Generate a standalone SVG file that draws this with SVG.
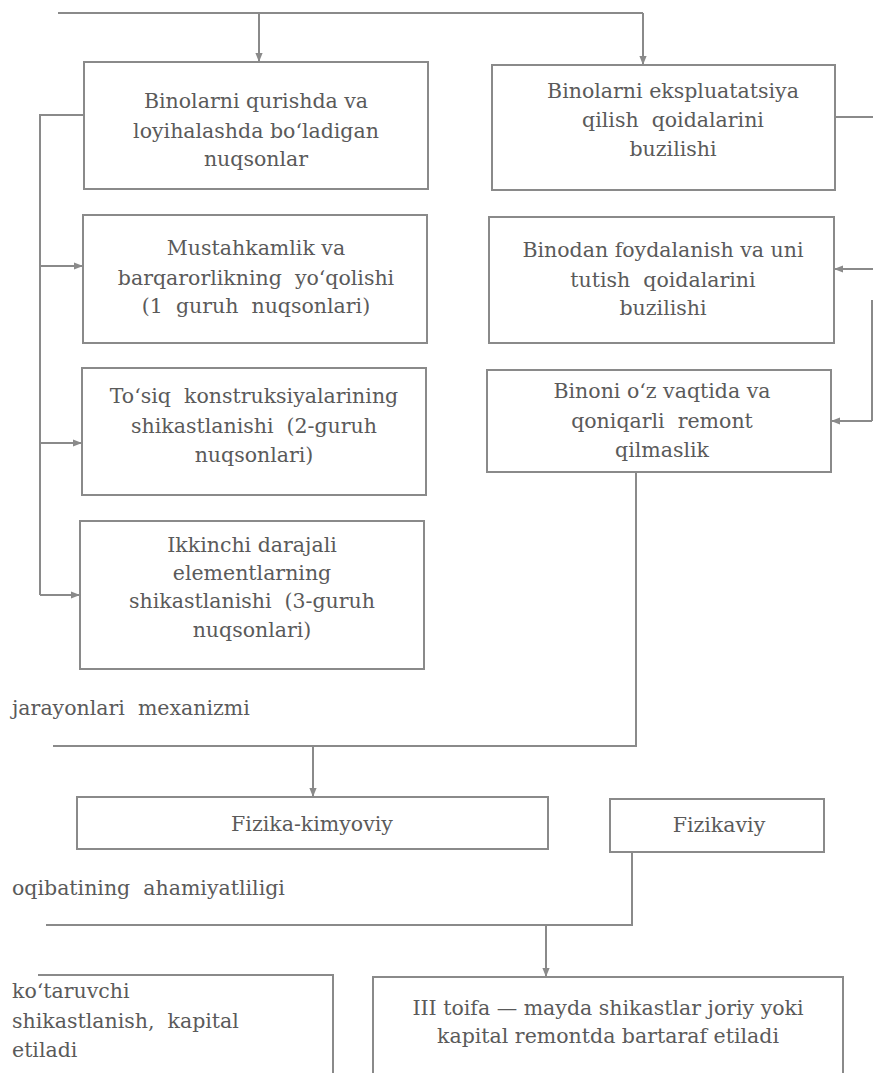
<svg xmlns="http://www.w3.org/2000/svg" width="873" height="1073" viewBox="0 0 873 1073">
<defs>
<style>
.box{fill:none;stroke:#8a8a8a;stroke-width:2}
.ln{fill:none;stroke:#8a8a8a;stroke-width:2}
.t{font-family:"DejaVu Serif","Liberation Serif",serif;font-size:20.5px;fill:#5a5a5a;white-space:pre}
.c{text-anchor:middle}
</style>
<marker id="ah" viewBox="0 0 10 10" refX="10" refY="5" markerWidth="9" markerHeight="9" markerUnits="userSpaceOnUse" orient="auto">
<path d="M0,1 L10,5 L0,9 z" fill="#8a8a8a"/>
</marker>
</defs>
<rect width="873" height="1073" fill="#ffffff"/>

<g id="connectors">
<path class="ln" d="M58,13 H643"/>
<path class="ln" d="M259,13 V62" marker-end="url(#ah)"/>
<path class="ln" d="M643,13 V65" marker-end="url(#ah)"/>
<path class="ln" d="M84,115 H40 V595"/>
<path class="ln" d="M40,266 H83" marker-end="url(#ah)"/>
<path class="ln" d="M40,443 H82" marker-end="url(#ah)"/>
<path class="ln" d="M40,595 H80" marker-end="url(#ah)"/>
<path class="ln" d="M835,117 H873"/>
<path class="ln" d="M873,269 H834" marker-end="url(#ah)"/>
<path class="ln" d="M872,300 V421"/>
<path class="ln" d="M872,421 H831" marker-end="url(#ah)"/>
<path class="ln" d="M636,472 V746 H53"/>
<path class="ln" d="M313,746 V797" marker-end="url(#ah)"/>
<path class="ln" d="M632,852 V925 H46"/>
<path class="ln" d="M546,925 V977" marker-end="url(#ah)"/>
</g>

<g id="n1">
<rect class="box" x="84" y="62" width="344" height="127"/>
<text class="t c" x="256" y="108">Binolarni qurishda va</text>
<text class="t c" x="256" y="138">loyihalashda bo‘ladigan</text>
<text class="t c" x="256" y="166">nuqsonlar</text>
</g>

<g id="n2">
<rect class="box" x="492" y="65" width="343" height="125"/>
<text class="t c" x="673" y="98">Binolarni ekspluatatsiya</text>
<text class="t c" x="673" y="127">qilish  qoidalarini</text>
<text class="t c" x="673" y="156">buzilishi</text>
</g>

<g id="n3">
<rect class="box" x="83" y="215" width="344" height="128"/>
<text class="t c" x="256" y="255">Mustahkamlik va</text>
<text class="t c" x="256" y="285">barqarorlikning  yo‘qolishi</text>
<text class="t c" x="256" y="313">(1  guruh  nuqsonlari)</text>
</g>

<g id="n4">
<rect class="box" x="82" y="368" width="344" height="127"/>
<text class="t c" x="254" y="403">To‘siq  konstruksiyalarining</text>
<text class="t c" x="254" y="433">shikastlanishi  (2-guruh</text>
<text class="t c" x="254" y="462">nuqsonlari)</text>
</g>

<g id="n5">
<rect class="box" x="80" y="521" width="344" height="148"/>
<text class="t c" x="252" y="552">Ikkinchi darajali</text>
<text class="t c" x="252" y="580">elementlarning</text>
<text class="t c" x="252" y="608">shikastlanishi  (3-guruh</text>
<text class="t c" x="252" y="637">nuqsonlari)</text>
</g>

<g id="n6">
<rect class="box" x="489" y="217" width="345" height="126"/>
<text class="t c" x="663" y="257">Binodan foydalanish va uni</text>
<text class="t c" x="663" y="287">tutish  qoidalarini</text>
<text class="t c" x="663" y="315">buzilishi</text>
</g>

<g id="n7">
<rect class="box" x="487" y="370" width="344" height="102"/>
<text class="t c" x="662" y="398">Binoni o‘z vaqtida va</text>
<text class="t c" x="662" y="428">qoniqarli  remont</text>
<text class="t c" x="662" y="457">qilmaslik</text>
</g>

<g id="label1">
<text class="t" x="12" y="715">jarayonlari  mexanizmi</text>
</g>

<g id="n8">
<rect class="box" x="77" y="797" width="471" height="52"/>
<text class="t c" x="312" y="831">Fizika-kimyoviy</text>
</g>

<g id="n9">
<rect class="box" x="610" y="799" width="214" height="53"/>
<text class="t c" x="719" y="832">Fizikaviy</text>
</g>

<g id="label2">
<text class="t" x="12" y="895">oqibatining  ahamiyatliligi</text>
</g>

<g id="n10">
<path class="box" d="M38,975 H333 V1075"/>
<text class="t" x="12" y="998">ko‘taruvchi</text>
<text class="t" x="12" y="1028">shikastlanish,  kapital</text>
<text class="t" x="12" y="1057">etiladi</text>
</g>

<g id="n11">
<path class="box" d="M373,1075 V977 H843 V1075"/>
<text class="t c" x="608" y="1015">III toifa — mayda shikastlar joriy yoki</text>
<text class="t c" x="608" y="1043">kapital remontda bartaraf etiladi</text>
</g>
</svg>
